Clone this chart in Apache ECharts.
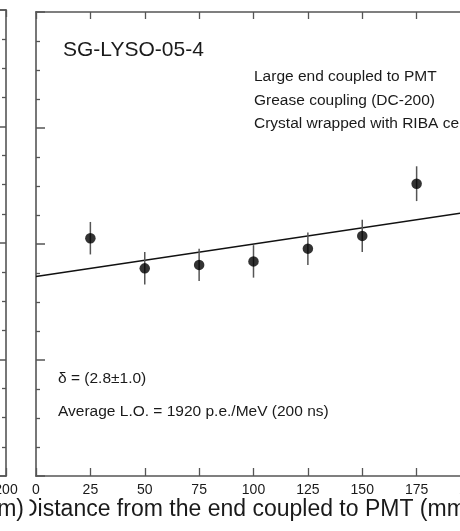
<!DOCTYPE html>
<html>
<head>
<meta charset="utf-8">
<script src="https://cdn.jsdelivr.net/npm/echarts@6/dist/echarts.min.js"></script>
<style>
  html, body { margin: 0; padding: 0; background: #fff; }
  #chart { width: 460px; height: 531px; }
</style>
</head>
<body>
<div id="chart"></div>
<script>
// Light output scan along the crystal, normalised to the average
const positions = [25, 50, 75, 100, 125, 150, 175];          // mm from PMT end
const lightOutput = [1.005, 0.979, 0.982, 0.985, 0.996, 1.007, 1.052];
const lightOutputErr = [0.014, 0.014, 0.014, 0.014, 0.014, 0.014, 0.015];
// Linear fit, delta = 2.8 %
const fitLine = [[0, 0.972], [200, 1.028]];

const xRange = [0, 200];
const xStep = 25;
const yRange = [0.8, 1.2];
const yStep = 0.1;

const crystalName = 'SG-LYSO-05-4';
const setupNotes = ['Large end coupled to PMT', 'Grease coupling (DC-200)', 'Crystal wrapped with RIBA cell'];
const deltaText = '\u03B4 = (2.8\u00B11.0)';
const averageText = 'Average L.O. = 1920 p.e./MeV (200 ns)';
const xTitle = 'Distance from the end coupled to PMT (mm)';

const FONT = '"Liberation Sans", Arial, Helvetica, sans-serif';
const INK = '#1a1a1a';
const AXIS = '#555';

const points = positions.map((x, i) => [x, lightOutput[i], lightOutputErr[i]]);

function xAxisCfg(gridIndex, position, showLabels, tickLen) {
  return {
    type: 'value', gridIndex, position,
    min: xRange[0], max: xRange[1], interval: xStep,
    axisLine: { show: true, onZero: false, lineStyle: { color: AXIS, width: 1.5 } },
    axisTick: { show: true, inside: true, length: tickLen, lineStyle: { color: AXIS, width: 1.3 } },
    axisLabel: { show: showLabels, color: INK, fontSize: 14, fontFamily: FONT, margin: 7,
                 showMinLabel: true, showMaxLabel: true },
    splitLine: { show: false }
  };
}

function yAxisCfg(gridIndex, position, majorLen, minorLen, lineWidth) {
  return {
    type: 'value', gridIndex, position,
    min: yRange[0], max: yRange[1], interval: yStep,
    axisLine: { show: true, onZero: false, lineStyle: { color: '#777', width: lineWidth } },
    axisTick: { show: true, inside: true, length: majorLen, lineStyle: { color: AXIS, width: 1.5 } },
    minorTick: { show: true, splitNumber: 4, length: minorLen, lineStyle: { color: AXIS, width: 1.3 } },
    axisLabel: { show: false },
    splitLine: { show: false },
    minorSplitLine: { show: false }
  };
}

const chart = echarts.init(document.getElementById('chart'), null, { renderer: 'canvas' });

chart.setOption({
  animation: false,
  backgroundColor: '#fff',
  grid: [
    { left: 36, top: 12, width: 435, height: 464, containLabel: false, outerBoundsMode: 'none' },
    { left: -429, top: 10, width: 435, height: 466, containLabel: false, outerBoundsMode: 'none' }
  ],
  xAxis: [
    xAxisCfg(0, 'bottom', true, 8),
    xAxisCfg(0, 'top', false, 7),
    xAxisCfg(1, 'bottom', true, 8),
    xAxisCfg(1, 'top', false, 7)
  ],
  yAxis: [
    yAxisCfg(0, 'left', 9, 4, 2),
    yAxisCfg(1, 'right', 7, 4, 2)
  ],
  series: [
    {
      type: 'line', xAxisIndex: 0, yAxisIndex: 0,
      data: fitLine, showSymbol: false, silent: true,
      lineStyle: { color: '#111', width: 1.5 }, z: 2
    },
    {
      type: 'custom', xAxisIndex: 0, yAxisIndex: 0, z: 3,
      data: points,
      renderItem: function (params, api) {
        const x = api.value(0), y = api.value(1), e = api.value(2);
        const lo = api.coord([x, y - e]);
        const hi = api.coord([x, y + e]);
        return {
          type: 'line',
          shape: { x1: lo[0], y1: lo[1], x2: hi[0], y2: hi[1] },
          style: { stroke: '#555', lineWidth: 1.5 }
        };
      }
    },
    {
      type: 'scatter', xAxisIndex: 0, yAxisIndex: 0, z: 4,
      data: points.map(p => [p[0], p[1]]),
      symbol: 'circle', symbolSize: 10.5,
      itemStyle: { color: '#000' }
    }
  ],
  graphic: [
    { type: 'text', x: 63, y: 50, z: 10,
      style: { text: crystalName, font: '21px ' + FONT, fill: INK, verticalAlign: 'middle' } },
    ...setupNotes.map((t, i) => ({
      type: 'text', x: 254, y: 77 + i * 23.3, z: 10,
      style: { text: t, font: '15.5px ' + FONT, fill: INK, verticalAlign: 'middle' }
    })),
    { type: 'text', x: 58, y: 379, z: 10,
      style: { text: deltaText, font: '15.5px ' + FONT, fill: INK, verticalAlign: 'middle' } },
    { type: 'text', x: 58, y: 412, z: 10,
      style: { text: averageText, font: '15.5px ' + FONT, fill: INK, verticalAlign: 'middle' } },
    // title of this panel; its first letter is partly covered by the neighbouring panel
    { type: 'text', x: 21, y: 510, z: 10,
      style: { text: xTitle, font: '23px ' + FONT, fill: INK, verticalAlign: 'middle' } },
    { type: 'rect', z: 11, shape: { x: 20, y: 494, width: 9.5, height: 30 },
      style: { fill: '#fff' } },
    // neighbouring panel's title, running off the left edge
    { type: 'text', x: 24, y: 510, z: 12,
      style: { text: xTitle, font: '23px ' + FONT, fill: INK, align: 'right', verticalAlign: 'middle' } }
  ]
});
</script>
</body>
</html>
